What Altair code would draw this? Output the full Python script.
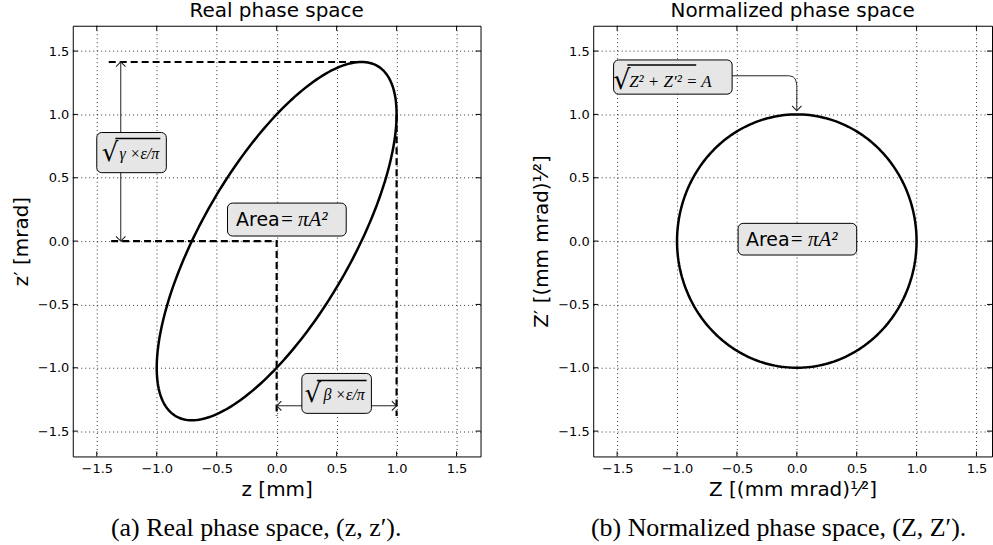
import altair as alt
import numpy as np
import pandas as pd

# ---------------- data ----------------
tick_values = [-1.5, -1.0, -0.5, 0.0, 0.5, 1.0, 1.5]
left_x_domain = [-1.7, 1.7]
right_x_domain = [-1.7, 1.63]
y_domain = [-1.7, 1.7]

# Twiss parameters of the real-space ellipse (z_max = 1.0, z'_max = 1.41)
beta_tw = 1.0
alpha_tw = -1.0
emit_over_pi = 1.0
# radius of the normalized-space circle
norm_amp = 1.0
n_curve = 241

# dashed guide lines (left panel)
guide_seg = ["top", "top", "mid", "mid", "mid", "right", "right"]
guide_x = [-1.40, 0.71, -1.38, 0.0, 0.0, 1.0, 1.0]
guide_y = [1.414, 1.414, 0.0, 0.0, -1.38, 1.0, -1.38]

# double arrows (left panel)
arrow_seg = ["v", "v", "h", "h"]
arrow_x = [-1.3, -1.3, 0.0, 1.0]
arrow_y = [0.0, 1.414, -1.30, -1.30]
head_x = [-1.3, -1.3, 0.0, 1.0]
head_y = [1.414, 0.0, -1.30, -1.30]
head_ang = [180, 0, 90, 270]

# annotation boxes (left panel)
lbox_x1 = [-1.50, 0.21, -0.41]
lbox_x2 = [-0.92, 0.79, 0.58]
lbox_y1 = [0.54, -1.36, 0.04]
lbox_y2 = [0.857, -1.045, 0.30]

# radical signs, radicands and overlines (left panel)
lrad_x = [-1.39, 0.30]
lrad_y = [0.70, -1.20]
lrad_text_x = [-1.31, 0.39]
lrad_text = ["γ ×ε/π", "β ×ε/π"]
lbar_x1 = [-1.345, 0.335]
lbar_x2 = [-0.97, 0.75]
lbar_y = [0.81, -1.10]

# "Area = πA²" labels
larea_x = [0.025]
larea_y = [0.17]
rarea_x = [-0.06]
rarea_y = [0.01]

# right panel boxes
rbox_x1 = [-1.53, -0.49]
rbox_x2 = [-0.54, 0.50]
rbox_y1 = [1.16, -0.11]
rbox_y2 = [1.43, 0.14]
rrad_x = [-1.46]
rrad_y = [1.27]
rrad_text_x = [-1.40]
rrad_text = ["Z² + Z′²  = A"]
rbar_x1 = [-1.415]
rbar_x2 = [-0.84]
rbar_y = [1.39]

# bent arrow (right panel)
rarrow_x = [-0.54, -0.07, -0.03, -0.01, 0.0, 0.0]
rarrow_y = [1.305, 1.305, 1.295, 1.27, 1.23, 1.03]
rhead_x = [0.0]
rhead_y = [1.03]
rhead_ang = [0]

captions = ["(a) Real phase space, (z, z′).", "(b) Normalized phase space, (Z, Z′)."]

# ---------------- styling ----------------
W_LEFT = 409
W_RIGHT = 400
H = 432
SANS = "DejaVu Sans"
SERIF = "Liberation Serif"
BOX_FILL = "#e6e6e6"
ARROW_COL = "#222222"
HEAD_PATH = "M-1,-1L0,0L1,-1"


def axis_x(title):
    return alt.Axis(values=tick_values, format=".1f", grid=True, ticks=False, domain=False,
                    gridDash=[1, 3], gridColor="#000000", gridOpacity=0.8, gridWidth=1,
                    labelFont=SANS, labelFontSize=13, labelColor="#000", labelPadding=6,
                    title=title, titleFont=SANS, titleFontSize=20, titleFontWeight="normal",
                    titleColor="#000", titlePadding=4, labelFlush=False)


def axis_y(title):
    return alt.Axis(values=tick_values, format=".1f", grid=True, ticks=False, domain=False,
                    gridDash=[1, 3], gridColor="#000000", gridOpacity=0.8, gridWidth=1,
                    labelFont=SANS, labelFontSize=13, labelColor="#000", labelPadding=4,
                    title=title, titleFont=SANS, titleFontSize=20, titleFontWeight="normal",
                    titleColor="#000", titlePadding=6, labelFlush=False)


def make_panel(width, xdom, xtitle, ytitle, title, caption, caption_dx, layers_fn):
    xax = axis_x(xtitle)
    yax = axis_y(ytitle)

    def X(f="x"):
        return alt.X(f"{f}:Q", scale=alt.Scale(domain=xdom, nice=False, zero=False), axis=xax)

    def Y(f="y"):
        return alt.Y(f"{f}:Q", scale=alt.Scale(domain=y_domain, nice=False, zero=False), axis=yax)

    tdf = pd.DataFrame({"x": tick_values, "y": tick_values})
    tick_b = alt.Chart(tdf).mark_rule(color="#000", strokeWidth=1).encode(
        x=X(), y=alt.value(H), y2=alt.value(H - 5))
    tick_t = alt.Chart(tdf).mark_rule(color="#000", strokeWidth=1).encode(
        x=X(), y=alt.value(0), y2=alt.value(5))
    tick_l = alt.Chart(tdf).mark_rule(color="#000", strokeWidth=1).encode(
        y=Y(), x=alt.value(0), x2=alt.value(5))
    tick_r = alt.Chart(tdf).mark_rule(color="#000", strokeWidth=1).encode(
        y=Y(), x=alt.value(width), x2=alt.value(width - 5))

    cap = alt.Chart(pd.DataFrame({"c": [caption]})).mark_text(
        font=SERIF, fontSize=26, color="#000", align="center", baseline="middle"
    ).encode(text="c:N", x=alt.value(caption_dx), y=alt.value(504))

    layers = [tick_b, tick_t, tick_l, tick_r] + layers_fn(X, Y) + [cap]
    return alt.layer(*layers).properties(
        width=width, height=H,
        title=alt.TitleParams(title, font=SANS, fontSize=20, fontWeight="normal",
                              color="#000", offset=4, anchor="middle"))


def box_layers(X, Y, x1, x2, y1, y2):
    df = pd.DataFrame({"x": x1, "x2": x2, "y": y1, "y2": y2})
    return alt.Chart(df).mark_rect(fill=BOX_FILL, stroke="#000", strokeWidth=1,
                                   cornerRadius=5).encode(
        x=X(), x2="x2:Q", y=Y(), y2="y2:Q")


def radical_layers(X, Y, rx, ry, tx, txt, bx1, bx2, by, size):
    rad = alt.Chart(pd.DataFrame({"x": rx, "y": ry, "t": ["√"] * len(rx)})).mark_text(
        font="DejaVu Serif", fontSize=size + 10, color="#000", align="center", baseline="middle",
        dy=1
    ).encode(x=X(), y=Y(), text="t:N")
    body = alt.Chart(pd.DataFrame({"x": tx, "y": ry, "t": txt})).mark_text(
        font=SERIF, fontStyle="italic", fontSize=size, color="#000", align="left",
        baseline="middle", dy=2
    ).encode(x=X(), y=Y(), text="t:N")
    bar = alt.Chart(pd.DataFrame({"x": bx1, "x2": bx2, "y": by})).mark_rule(
        color="#000", strokeWidth=1.5).encode(x=X(), x2="x2:Q", y=Y())
    return [rad, body, bar]


def area_layers(X, Y, ax, ay):
    df = pd.DataFrame({"x": ax, "y": ay, "a": ["Area"] * len(ax), "b": ["\u2009=\u2009πA²"] * len(ax)})
    t1 = alt.Chart(df).mark_text(font=SANS, fontSize=19, color="#000", align="right",
                                 baseline="middle").encode(x=X(), y=Y(), text="a:N")
    t2 = alt.Chart(df).mark_text(font=SERIF, fontStyle="italic", fontSize=21, color="#000",
                                 align="left", baseline="middle").encode(x=X(), y=Y(), text="b:N")
    return [t1, t2]


def left_layers(X, Y):
    phi = np.linspace(0, 2 * np.pi, n_curve)
    z = np.sqrt(emit_over_pi * beta_tw) * np.cos(phi)
    zp = -np.sqrt(emit_over_pi / beta_tw) * (alpha_tw * np.cos(phi) + np.sin(phi))
    ell = pd.DataFrame({"x": z, "y": zp, "o": np.arange(n_curve)})
    ellipse = alt.Chart(ell).mark_line(color="#000", strokeWidth=2.5).encode(
        x=X(), y=Y(), order="o:Q")

    gdf = pd.DataFrame({"x": guide_x, "y": guide_y, "s": guide_seg, "o": range(len(guide_x))})
    guides = alt.Chart(gdf).mark_line(color="#000", strokeWidth=2.2, strokeDash=[7, 4]).encode(
        x=X(), y=Y(), detail="s:N", order="o:Q")

    adf = pd.DataFrame({"x": arrow_x, "y": arrow_y, "s": arrow_seg, "o": range(len(arrow_x))})
    arrows = alt.Chart(adf).mark_line(color=ARROW_COL, strokeWidth=1).encode(
        x=X(), y=Y(), detail="s:N", order="o:Q")
    hdf = pd.DataFrame({"x": head_x, "y": head_y, "a": head_ang})
    heads = alt.Chart(hdf).mark_point(shape=HEAD_PATH, filled=False, size=90, color=ARROW_COL,
                                      strokeWidth=1.1, opacity=1).encode(
        x=X(), y=Y(), angle=alt.Angle("a:Q", scale=None))

    boxes = box_layers(X, Y, lbox_x1, lbox_x2, lbox_y1, lbox_y2)
    rads = radical_layers(X, Y, lrad_x, lrad_y, lrad_text_x, lrad_text, lbar_x1, lbar_x2, lbar_y, 16)
    areas = area_layers(X, Y, larea_x, larea_y)
    return [guides, ellipse, arrows, heads, boxes] + rads + areas


def right_layers(X, Y):
    phi = np.linspace(0, 2 * np.pi, n_curve)
    cdf = pd.DataFrame({"x": norm_amp * np.cos(phi), "y": norm_amp * np.sin(phi),
                        "o": np.arange(n_curve)})
    circle = alt.Chart(cdf).mark_line(color="#000", strokeWidth=2.5).encode(
        x=X(), y=Y(), order="o:Q")
    adf = pd.DataFrame({"x": rarrow_x, "y": rarrow_y, "o": range(len(rarrow_x))})
    arrow = alt.Chart(adf).mark_line(color=ARROW_COL, strokeWidth=1, interpolate="monotone").encode(
        x=X(), y=Y(), order="o:Q")
    hdf = pd.DataFrame({"x": rhead_x, "y": rhead_y, "a": rhead_ang})
    heads = alt.Chart(hdf).mark_point(shape=HEAD_PATH, filled=False, size=90, color=ARROW_COL,
                                      strokeWidth=1.1, opacity=1).encode(
        x=X(), y=Y(), angle=alt.Angle("a:Q", scale=None))
    boxes = box_layers(X, Y, rbox_x1, rbox_x2, rbox_y1, rbox_y2)
    rads = radical_layers(X, Y, rrad_x, rrad_y, rrad_text_x, rrad_text, rbar_x1, rbar_x2, rbar_y, 17)
    areas = area_layers(X, Y, rarea_x, rarea_y)
    return [circle, arrow, heads, boxes] + rads + areas


left = make_panel(W_LEFT, left_x_domain, "z [mm]", "z′ [mrad]", "Real phase space",
                  captions[0], 184, left_layers)
right = make_panel(W_RIGHT, right_x_domain, "Z [(mm mrad)¹⁄²]", "Z′ [(mm mrad)¹⁄²]",
                   "Normalized phase space", captions[1], 186, right_layers)

chart = alt.hconcat(left, right, spacing=49).properties(
    padding={"left": 10, "top": 0, "right": 0, "bottom": 0},
    background="white",
).configure_view(stroke="#000", strokeWidth=1, fill="white")

chart.save("out.html", embed_options={"renderer": "svg", "actions": False})
